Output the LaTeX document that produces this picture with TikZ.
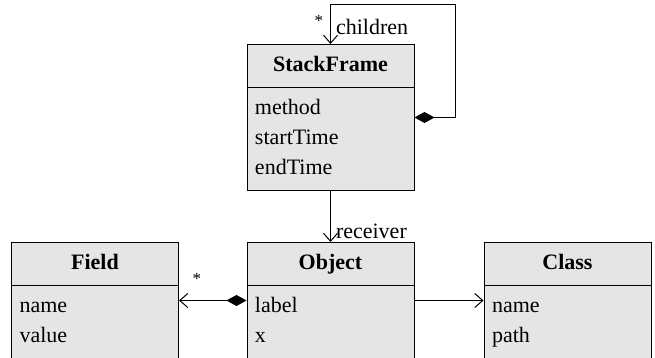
\documentclass[tikz,border=0pt]{standalone}
\usepackage{fontspec}
\setmainfont{Liberation Serif}
\usetikzlibrary{arrows.meta,shapes.multipart,positioning}

\tikzset{
  umlclass/.style={rectangle split, rectangle split parts=2, draw, fill=gray!20,
    line width=0.5pt, minimum width=83.5pt, inner xsep=4pt, inner ysep=3pt,
    rectangle split part align={center,left}, align=left,
    font=\fontsize{11}{15}\selectfont},
  comp/.style={line width=0.5pt, {Diamond[length=10pt,width=5.5pt]}-{Straight Barb[length=4pt,width=7pt]}},
  assoc/.style={line width=0.5pt, -{Straight Barb[length=4pt,width=7pt]}},
  lbl/.style={font=\fontsize{11}{13}\selectfont, inner sep=1.5pt},
  star/.style={font=\fontsize{8.5}{10}\selectfont, inner sep=1.5pt}
}

\begin{document}
\begin{tikzpicture}[x=0.5pt,y=-0.5pt]
      \useasboundingbox (0,0) rectangle (655,358);

      % Classes
      \node[umlclass, anchor=north] (sf) at (330.5,44)
        {\textbf{StackFrame}\strut \nodepart{two} method\strut\\ startTime\strut\\ endTime\strut};
      \node[umlclass, anchor=north] (field) at (95,242)
        {\textbf{Field}\strut \nodepart{two} name\strut\\ value\strut};
      \node[umlclass, anchor=north] (obj) at (330.5,242)
        {\textbf{Object}\strut \nodepart{two} label\strut\\ x\strut};
      \node[umlclass, anchor=north] (cls) at (567.5,242)
        {\textbf{Class}\strut \nodepart{two} name\strut\\ path\strut};

      % Self loop (children)
      \coordinate (loopcorner) at ([xshift=20.5pt,yshift=19.5pt]sf.north east);
      \draw[comp] (sf.east) -| (loopcorner) -| (sf.north)
        node[lbl, pos=1, anchor=south west, yshift=3pt, xshift=1pt] (childrenlbl) {children}
        node[star, pos=1, anchor=south east, yshift=7pt, xshift=-2pt] (childstar) {*};

      % Associations
      \draw[assoc] (sf.south) -- (obj.north)
        node[lbl, pos=1, anchor=south west, xshift=1pt] (recvlbl) {receiver};
      \draw[comp] (obj.west) -- (field.east)
        node[star, pos=1, anchor=south west, xshift=5pt, yshift=6pt] (fieldstar) {*};
      \draw[assoc] (obj.east) -- (cls.west);
\end{tikzpicture}
\end{document}
